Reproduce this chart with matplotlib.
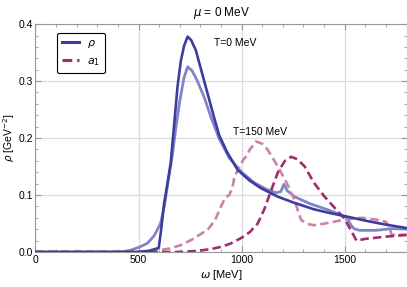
import matplotlib
matplotlib.use('Agg')
import matplotlib.pyplot as plt
from matplotlib.lines import Line2D
from matplotlib.ticker import MultipleLocator

plt.rcParams['font.family'] = ['Liberation Sans', 'DejaVu Sans']
plt.rcParams['mathtext.fontset'] = 'dejavusans'

# rho meson, T = 0 MeV
w_rho0 = [0, 500, 550, 598, 610, 624, 640, 656, 672, 689, 705, 721, 738, 755, 778, 805,
          835, 865, 891, 930, 981, 1040, 1094, 1176, 1250, 1350, 1420, 1500, 1600, 1700, 1800]
s_rho0 = [0, 0, 0.002, 0.007, 0.04, 0.085, 0.12, 0.156, 0.22, 0.29, 0.335, 0.362, 0.378, 0.372,
          0.354, 0.318, 0.278, 0.238, 0.205, 0.175, 0.144, 0.125, 0.112, 0.097, 0.087, 0.075,
          0.069, 0.063, 0.055, 0.048, 0.042]

# rho meson, T = 150 MeV
w_rho150 = [0, 400, 430, 461, 500, 542, 575, 607, 625, 640, 664, 680, 700, 720, 738, 760, 786,
            820, 851, 890, 940, 1000, 1060, 1120, 1167, 1190, 1205, 1220, 1257, 1330, 1419, 1490,
            1515, 1530, 1545, 1570, 1650, 1730, 1800]
s_rho150 = [0, 0, 0.001, 0.003, 0.008, 0.015, 0.028, 0.05, 0.08, 0.115, 0.17, 0.215, 0.265,
            0.305, 0.325, 0.318, 0.30, 0.27, 0.237, 0.2, 0.165, 0.14, 0.122, 0.11, 0.104, 0.106,
            0.119, 0.108, 0.097, 0.085, 0.074, 0.064, 0.058, 0.047, 0.041, 0.038, 0.038, 0.041,
            0.040]

# a1 meson, T = 0 MeV
w_a10 = [0, 700, 786, 850, 900, 948, 1000, 1040, 1078, 1110, 1140, 1176, 1210, 1240, 1270,
         1306, 1350, 1400, 1450, 1500, 1557, 1600, 1700, 1800]
s_a10 = [0, 0, 0.002, 0.005, 0.009, 0.015, 0.025, 0.035, 0.05, 0.075, 0.105, 0.14, 0.16, 0.167,
         0.163, 0.150, 0.122, 0.098, 0.078, 0.058, 0.020, 0.023, 0.027, 0.030]

# a1 meson, T = 150 MeV
w_a1150 = [0, 540, 600, 650, 705, 760, 835, 870, 900, 920, 940, 955, 965, 990, 1010, 1021, 1040,
           1070, 1100, 1127, 1176, 1220, 1257, 1275, 1289, 1320, 1354, 1420, 1500, 1581, 1650,
           1700, 1715, 1728, 1800]
s_a1150 = [0, 0, 0.003, 0.006, 0.012, 0.022, 0.039, 0.055, 0.08, 0.095, 0.100, 0.112, 0.132,
           0.15, 0.163, 0.167, 0.18, 0.194, 0.19, 0.179, 0.15, 0.12, 0.091, 0.07, 0.056, 0.049,
           0.047, 0.051, 0.057, 0.060, 0.057, 0.053, 0.045, 0.030, 0.030]

dark_blue = '#3d3d9e'
light_blue = '#8383c9'
dark_mag = '#9c2f6d'
light_pink = '#c982ad'

fig = plt.figure(figsize=(4.07, 2.87), dpi=100)
ax = fig.add_axes([0.087, 0.122, 0.912, 0.794])

ax.plot(w_rho150, s_rho150, color=light_blue, lw=2.0, zorder=3)
ax.plot(w_a1150, s_a1150, color=light_pink, lw=1.9, ls=(0, (3.2, 1.6)), zorder=3)
ax.plot(w_a10, s_a10, color=dark_mag, lw=1.9, ls=(0, (3.2, 1.6)), zorder=3)
ax.plot(w_rho0, s_rho0, color=dark_blue, lw=1.9, zorder=4)

ax.set_xlim(0, 1800)
ax.set_ylim(0, 0.4)
ax.xaxis.set_major_locator(MultipleLocator(500))
ax.xaxis.set_minor_locator(MultipleLocator(100))
ax.yaxis.set_major_locator(MultipleLocator(0.1))
ax.yaxis.set_minor_locator(MultipleLocator(0.02))
ax.yaxis.set_major_formatter(matplotlib.ticker.FormatStrFormatter('%.1f'))
ax.grid(True, which='major', color='#dcdcdc', lw=0.9)
ax.set_axisbelow(True)
ax.tick_params(which='both', direction='in', top=True, right=True, labelsize=7.5,
               color='#999999', pad=2)
ax.tick_params(which='major', length=4)
ax.tick_params(which='minor', length=2)
for sp in ax.spines.values():
    sp.set_color('#999999')
    sp.set_linewidth(0.8)

ax.set_xlabel(r'$\omega$ [MeV]', fontsize=8, labelpad=2)
ax.set_ylabel(r'$\rho$ [GeV$^{-2}$]', fontsize=7.5, labelpad=0.5)
ax.set_title(r'$\mu$ = 0 MeV', fontsize=8.5, pad=6)

ax.text(866, 0.367, 'T=0 MeV', fontsize=7.5, va='center', ha='left')
ax.text(957, 0.21, 'T=150 MeV', fontsize=7.5, va='center', ha='left')

handles = [Line2D([], [], color=dark_blue, lw=2.2),
           Line2D([], [], color=dark_mag, lw=2.2, ls=(0, (3.2, 1.6)))]
leg = ax.legend(handles, [r'$\rho$', r'$a_1$'], loc='upper left',
                bbox_to_anchor=(0.057, 0.96), borderaxespad=0, fontsize=8,
                handlelength=1.6, frameon=True, fancybox=True, edgecolor='black',
                framealpha=1, borderpad=0.45, labelspacing=0.55, handletextpad=0.7)
leg.get_frame().set_linewidth(0.8)

fig.savefig('out.png', dpi=100)
